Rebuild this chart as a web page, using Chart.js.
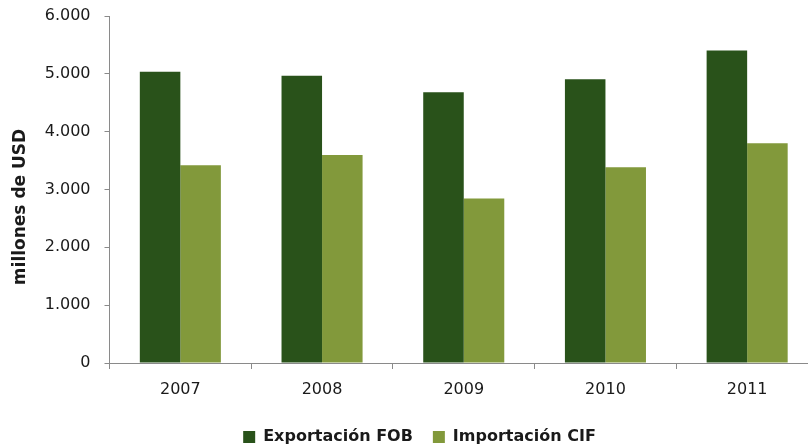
<!DOCTYPE html>
<html>
<head>
<meta charset="utf-8">
<script src="https://cdn.jsdelivr.net/npm/chart.js@4.4.0/dist/chart.umd.min.js"></script>
<style>
  html, body { margin: 0; padding: 0; background: #fff; overflow: hidden; }
  #wrap { width: 818px; height: 455px; }
</style>
</head>
<body>
<div id="wrap"><canvas id="myChart"></canvas></div>
<script>
// values (millones de USD)
const years = ['2007', '2008', '2009', '2010', '2011'];
const exportFOB = [5035, 4965, 4680, 4905, 5405];
const importCIF = [3420, 3595, 2845, 3385, 3800];
const yTickLabels = ['0', '1.000', '2.000', '3.000', '4.000', '5.000', '6.000'];
const yAxisTitle = 'millones de USD';

const FONT = '"DejaVu Sans", sans-serif';

// y title sits a bit below the middle of the axis in the original, so draw it by hand
const yTitlePlugin = {
    id: 'yTitle',
    afterDraw(chart) {
        const ctx = chart.ctx;
        ctx.save();
        ctx.translate(21, 207);
        ctx.rotate(-Math.PI / 2);
        ctx.font = 'bold 17px ' + FONT;
        ctx.fillStyle = '#1a1a1a';
        ctx.textAlign = 'center';
        ctx.textBaseline = 'middle';
        ctx.fillText(yAxisTitle, 0, 0);
        ctx.restore();
    }
};

const ctx = document.getElementById('myChart');
new Chart(ctx, {
    type: 'bar',
    data: {
        labels: years,
        datasets: [
            {
                label: 'Exportación FOB',
                data: exportFOB,
                backgroundColor: '#29521a',
                categoryPercentage: 0.572,
                barPercentage: 1.0
            },
            {
                label: 'Importación CIF',
                data: importCIF,
                backgroundColor: '#82993b',
                categoryPercentage: 0.572,
                barPercentage: 1.0
            }
        ]
    },
    options: {
        responsive: true,
        maintainAspectRatio: false,
        animation: false,
        layout: { padding: { top: 16, left: 21, right: 0, bottom: 0 } },
        plugins: {
            tooltip: { enabled: false },
            legend: {
                position: 'bottom',
                labels: {
                    boxWidth: 12,
                    boxHeight: 12,
                    padding: 20,
                    color: '#1a1a1a',
                    font: { family: FONT, size: 16, weight: 'bold' }
                }
            }
        },
        scales: {
            x: {
                afterFit: scale => { scale.height = 46; },
                grid: {
                    display: true,
                    drawOnChartArea: false,
                    drawTicks: true,
                    tickLength: 6,
                    color: '#8a8a8a'
                },
                border: { color: '#8a8a8a', width: 1 },
                ticks: {
                    padding: 11,
                    color: '#1a1a1a',
                    font: { family: FONT, size: 16 }
                }
            },
            y: {
                min: 0,
                max: 6000,
                afterFit: scale => {
                    scale.width = 88.5;
                    scale.paddingTop = 0;
                    scale.paddingBottom = 0;
                },
                grid: {
                    display: true,
                    drawOnChartArea: false,
                    drawTicks: true,
                    tickLength: 5,
                    color: '#8a8a8a'
                },
                border: { color: '#8a8a8a', width: 1 },
                ticks: {
                    stepSize: 1000,
                    padding: 14,
                    color: '#1a1a1a',
                    font: { family: FONT, size: 16 },
                    callback: (value, index) => yTickLabels[index]
                }
            }
        }
    },
    plugins: [yTitlePlugin]
});
</script>
</body>
</html>
